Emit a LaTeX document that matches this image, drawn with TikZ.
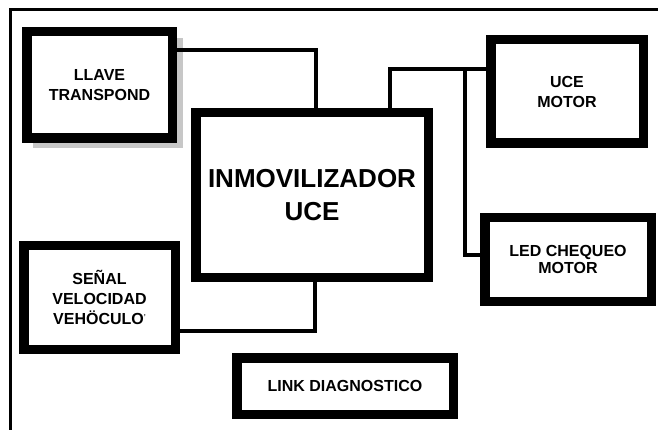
\documentclass[tikz,border=0pt]{standalone}
\usepackage{fontspec}
\setmainfont{Liberation Sans}
\usetikzlibrary{backgrounds}
\begin{document}
\begin{tikzpicture}[x=1pt,y=-1pt,
  blk/.style={draw=black, fill=white, line width=9.5pt, inner sep=0pt, outer sep=0pt,
    align=center, font=\bfseries\fontsize{16}{20}\selectfont},
  wire/.style={draw=black, line width=3.5pt},
  frameline/.style={draw=black, line width=3pt},
  shadowcol/.style={fill=black!22}]
\useasboundingbox (0,0) rectangle (658,430);
\begin{pgfonlayer}{background}
  \fill[white] (0,0) rectangle (658,430);
\end{pgfonlayer}
\draw[frameline] (658,10) -- (10,10) -- (10,430);

\node[blk, minimum width=145.5pt, minimum height=106.5pt] (llave) at (99.5,85) {LLAVE\\TRANSPOND};
\node[blk, minimum width=232.5pt, minimum height=164.5pt,
      font=\bfseries\fontsize{26}{33}\selectfont] (main) at (312,195) {INMOVILIZADOR\\UCE};
\node[blk, minimum width=152.5pt, minimum height=103.5pt] (ucemotor) at (567,91.5) {UCE\\MOTOR};
\node[blk, minimum width=166.5pt, minimum height=83.5pt,
      font=\bfseries\fontsize{16}{17.5}\selectfont] (led) at (568,259.5) {LED CHEQUEO\\MOTOR};
\node[blk, minimum width=151.5pt, minimum height=103.5pt] (senal) at (99.5,297.5)
  {SEÑAL\\VELOCIDAD\\VEHÖCULO{\fontsize{7}{7}\selectfont\raisebox{5pt}{’}}};
\node[blk, minimum width=216.5pt, minimum height=56.5pt] (link) at (345,386) {LINK DIAGNOSTICO};

\coordinate (w1) at (316,50);
\coordinate (w2) at (390,69);
\coordinate (w3) at (465,69);
\coordinate (w4) at (465,255);
\coordinate (w5) at (315,331);

\begin{pgfonlayer}{background}
  \fill[shadowcol] ([shift={(6pt,-6pt)}]llave.north west) rectangle ([shift={(10.75pt,-9.75pt)}]llave.south east);
  \draw[wire] (llave.east |- w1) -- (w1) -- (main.north -| w1);
  \draw[wire] (main.north -| w2) -- (w2) -- (ucemotor.west |- w2);
  \draw[wire] (w3) -- (w4) -- (led.west |- w4);
  \draw[wire] (main.south -| w5) -- (w5) -- (senal.east |- w5);
\end{pgfonlayer}
\end{tikzpicture}
\end{document}
